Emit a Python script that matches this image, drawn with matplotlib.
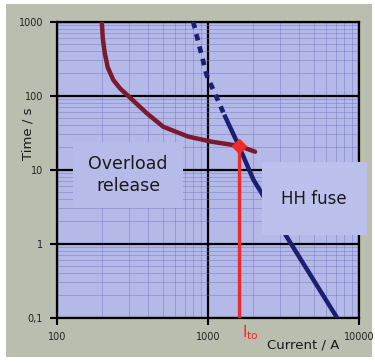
import numpy as np
import matplotlib
matplotlib.use('Agg')
import matplotlib.pyplot as plt
from matplotlib.patches import Rectangle

# overload release curve (current in A, time in s)
overload_I = [198, 201, 207, 217, 236, 262, 295, 393, 506, 740, 1057, 1600, 2050]
overload_t = [1000, 600, 380, 240, 163, 125, 100, 58, 38, 28, 23.9, 21, 17.5]

# HH fuse curve, first part dashed
fuse_dash_I = [798, 980, 1300]
fuse_dash_t = [1000, 190, 52]
fuse_I = [1300, 1600, 2000, 2270, 3320, 7150]
fuse_t = [52, 21, 7.3, 4.8, 1.24, 0.1]

# take-over current
I_to = 1600
t_to = 21

xticks = [100, 1000, 10000]
xlabels = ['100', '1000', '10000']
yticks = [0.1, 1, 10, 100, 1000]
ylabels = ['0,1', '1', '10', '100', '1000']

W, H = 375, 363
fig = plt.figure(figsize=(W / 100, H / 100), dpi=100, facecolor='white')

# textured-looking backdrop
fig.patches.append(Rectangle((6 / W, 1 - 357 / H), 366 / W, 353 / H,
                             transform=fig.transFigure, facecolor='#b9beae',
                             edgecolor='none', zorder=-10))

ax = fig.add_axes([57 / W, 1 - 317.7 / H, 302 / W, 296 / H])
ax.set_zorder(1)
ax.set_facecolor('#b5b9e8')
ax.set_xscale('log')
ax.set_yscale('log')
ax.set_xlim(100, 10000)
ax.set_ylim(0.1, 1000)

ax.grid(which='minor', color='#6f78c2', lw=0.6, alpha=0.55)
ax.grid(which='major', color='black', lw=1.6)
ax.set_axisbelow(True)
for s in ax.spines.values():
    s.set_linewidth(1.6)

ax.set_xticks(xticks)
ax.set_xticklabels(xlabels)
ax.set_yticks(yticks)
ax.set_yticklabels(ylabels)
ax.tick_params(which='major', length=5, width=1.5, labelsize=7, pad=5,
               labelcolor='#222222')
ax.tick_params(which='minor', length=0)

ax.plot(overload_I, overload_t, color='#7a1a2c', lw=3.2,
        solid_capstyle='round', solid_joinstyle='round', zorder=4)
ax.plot(fuse_dash_I, fuse_dash_t, color='#1b1f70', lw=3.4,
        linestyle=(0, (1.4, 1.3)), zorder=4)
ax.plot(fuse_I, fuse_t, color='#1b1f70', lw=3.2,
        solid_joinstyle='round', zorder=4)

ax.plot([I_to, I_to], [0.1, t_to], color='#f02a28', lw=2.4, zorder=5)
ax.plot([I_to], [t_to], marker='D', color='#f02a28', ms=7, zorder=6)

# label boxes
fig.patches.append(Rectangle((73 / W, 1 - 208 / H), 110 / W, 66 / H,
                             transform=fig.transFigure, facecolor='#b7bbe9',
                             edgecolor='none', zorder=3))
fig.patches.append(Rectangle((262 / W, 1 - 235 / H), 105 / W, 73 / H,
                             transform=fig.transFigure, facecolor='#bcc0ec',
                             edgecolor='none', zorder=3))
fig.text(128 / W, 1 - 175 / H, 'Overload\nrelease', ha='center', va='center',
         fontsize=12.5, color='#1a1a1a', linespacing=1.3, zorder=5)
fig.text(314 / W, 1 - 199 / H, 'HH fuse', ha='center', va='center',
         fontsize=12, color='#1a1a1a', zorder=5)

fig.text(250 / W, 1 - 333 / H, r'$\mathregular{I_{to}}$', ha='center',
         va='center', fontsize=11, color='#f02a28')
fig.text(303 / W, 1 - 345 / H, 'Current / A', ha='center', va='center',
         fontsize=9.5, color='#1a1a1a')
fig.text(28 / W, 1 - 134 / H, 'Time / s', ha='center', va='center',
         rotation=90, fontsize=9.5, color='#1a1a1a')

fig.savefig('out.png', dpi=100, facecolor='white')
